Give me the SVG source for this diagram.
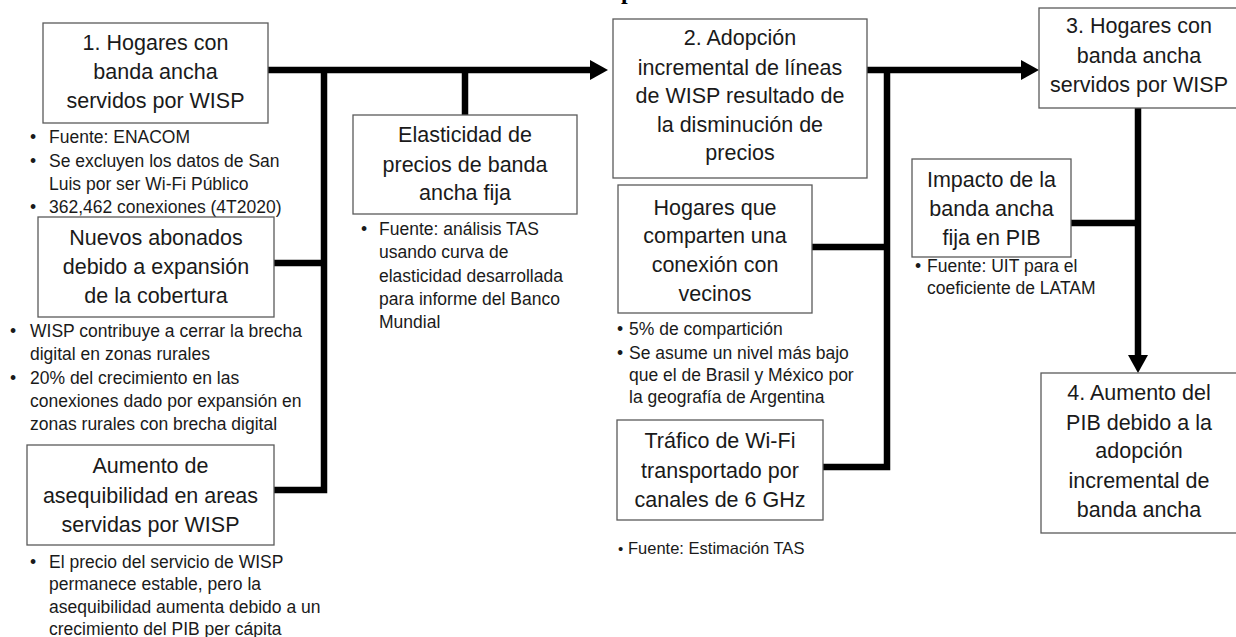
<svg xmlns="http://www.w3.org/2000/svg" width="1236" height="637" viewBox="0 0 1236 637">
<style>
.box{fill:#fff;stroke:#5a5a5a;stroke-width:1.3}
.t{font-family:"Liberation Sans",Arial,sans-serif;font-size:21.5px;fill:#1a1a1a;text-anchor:middle}
.b{font-family:"Liberation Sans",Arial,sans-serif;font-size:17.5px;fill:#1a1a1a}
.ln{fill:none;stroke:#000;stroke-width:6.5;stroke-linejoin:miter;stroke-linecap:butt}
</style>
<defs>
<marker id="ah" viewBox="0 0 18 20" refX="0" refY="10" markerWidth="18" markerHeight="20" markerUnits="userSpaceOnUse" orient="auto">
<path d="M0,0 L18,10 L0,20 Z" fill="#000"/>
</marker>
</defs>
<rect width="1236" height="637" fill="#fff"/>
<text x="621" y="-1" font-family="Liberation Serif,serif" font-weight="bold" font-size="24" fill="#000">p</text>

<g id="connectors">
<path class="ln" d="M268,70 H590" marker-end="url(#ah)"/>
<path class="ln" d="M324,70 V490 H274"/>
<path class="ln" d="M274,263 H324"/>
<path class="ln" d="M465,115 V70"/>
<path class="ln" d="M867,70 H1021" marker-end="url(#ah)"/>
<path class="ln" d="M887,70 V467 H823"/>
<path class="ln" d="M812,247 H887"/>
<path class="ln" d="M1138,108 V355" marker-end="url(#ah)"/>
<path class="ln" d="M1071,223 H1138"/>
</g>

<g id="n1">
<rect class="box" x="43" y="23" width="225" height="100"/>
<text class="t" x="155.5" y="50">1. Hogares con</text>
<text class="t" x="155.5" y="79">banda ancha</text>
<text class="t" x="155.5" y="108">servidos por WISP</text>
<g class="b">
<text x="30" y="143">•</text><text x="49" y="143">Fuente: ENACOM</text>
<text x="30" y="167">•</text><text x="49" y="167">Se excluyen los datos de San</text>
<text x="49" y="190">Luis por ser Wi-Fi Público</text>
<text x="30" y="213">•</text><text x="49" y="213">362,462 conexiones (4T2020)</text>
</g>
</g>

<g id="n_nuevos">
<rect class="box" x="38" y="217" width="236" height="100"/>
<text class="t" x="156" y="245">Nuevos abonados</text>
<text class="t" x="156" y="274">debido a expansión</text>
<text class="t" x="156" y="303">de la cobertura</text>
<g class="b">
<text x="10" y="337">•</text><text x="30" y="337">WISP contribuye a cerrar la brecha</text>
<text x="30" y="360">digital en zonas rurales</text>
<text x="10" y="384">•</text><text x="30" y="384">20% del crecimiento en las</text>
<text x="30" y="407">conexiones dado por expansión en</text>
<text x="30" y="430">zonas rurales con brecha digital</text>
</g>
</g>

<g id="n_asequ">
<rect class="box" x="27" y="445" width="247" height="100"/>
<text class="t" x="150.5" y="473">Aumento de</text>
<text class="t" x="150.5" y="503">asequibilidad en areas</text>
<text class="t" x="150.5" y="532">servidas por WISP</text>
<g class="b">
<text x="30" y="568">•</text><text x="49" y="568">El precio del servicio de WISP</text>
<text x="49" y="590">permanece estable, pero la</text>
<text x="49" y="613">asequibilidad aumenta debido a un</text>
<text x="49" y="635">crecimiento del PIB per cápita</text>
</g>
</g>

<g id="n_elast">
<rect class="box" x="353" y="115" width="224" height="99"/>
<text class="t" x="465" y="142">Elasticidad de</text>
<text class="t" x="465" y="172">precios de banda</text>
<text class="t" x="465" y="200">ancha fija</text>
<g class="b">
<text x="361" y="235">•</text><text x="379" y="235">Fuente: análisis TAS</text>
<text x="379" y="258">usando curva de</text>
<text x="379" y="282">elasticidad desarrollada</text>
<text x="379" y="305">para informe del Banco</text>
<text x="379" y="328">Mundial</text>
</g>
</g>

<g id="n2">
<rect class="box" x="613" y="19" width="254" height="159"/>
<text class="t" x="740" y="45">2. Adopción</text>
<text class="t" x="740" y="75">incremental de líneas</text>
<text class="t" x="740" y="103">de WISP resultado de</text>
<text class="t" x="740" y="132">la disminución de</text>
<text class="t" x="740" y="160">precios</text>
</g>

<g id="n_compart">
<rect class="box" x="618" y="185" width="194" height="128"/>
<text class="t" x="715" y="215">Hogares que</text>
<text class="t" x="715" y="243">comparten una</text>
<text class="t" x="715" y="272">conexión con</text>
<text class="t" x="715" y="301">vecinos</text>
<g class="b">
<text x="617" y="335">•</text><text x="629" y="335">5% de compartición</text>
<text x="617" y="359">•</text><text x="629" y="359">Se asume un nivel más bajo</text>
<text x="629" y="381">que el de Brasil y México por</text>
<text x="629" y="403">la geografía de Argentina</text>
</g>
</g>

<g id="n_trafico">
<rect class="box" x="617" y="420" width="206" height="100"/>
<text class="t" x="720" y="448">Tráfico de Wi-Fi</text>
<text class="t" x="720" y="478">transportado por</text>
<text class="t" x="720" y="507">canales de 6 GHz</text>
<g class="b">
<text x="618" y="554" font-size="15">•</text><text x="628" y="554" font-size="16.5">Fuente: Estimación TAS</text>
</g>
</g>

<g id="n3">
<rect class="box" x="1039" y="8" width="198" height="100"/>
<text class="t" x="1139" y="33">3. Hogares con</text>
<text class="t" x="1139" y="63">banda ancha</text>
<text class="t" x="1139" y="92">servidos por WISP</text>
</g>

<g id="n_impacto">
<rect class="box" x="912" y="159" width="159" height="98"/>
<text class="t" x="991.5" y="187">Impacto de la</text>
<text class="t" x="991.5" y="216">banda ancha</text>
<text class="t" x="991.5" y="245">fija en PIB</text>
<g class="b">
<text x="915" y="272">•</text><text x="927" y="272">Fuente: UIT para el</text>
<text x="927" y="294">coeficiente de LATAM</text>
</g>
</g>

<g id="n4">
<rect class="box" x="1041" y="373" width="196" height="160"/>
<text class="t" x="1139" y="400">4. Aumento del</text>
<text class="t" x="1139" y="430">PIB debido a la</text>
<text class="t" x="1139" y="458">adopción</text>
<text class="t" x="1139" y="488">incremental de</text>
<text class="t" x="1139" y="517">banda ancha</text>
</g>
</svg>
